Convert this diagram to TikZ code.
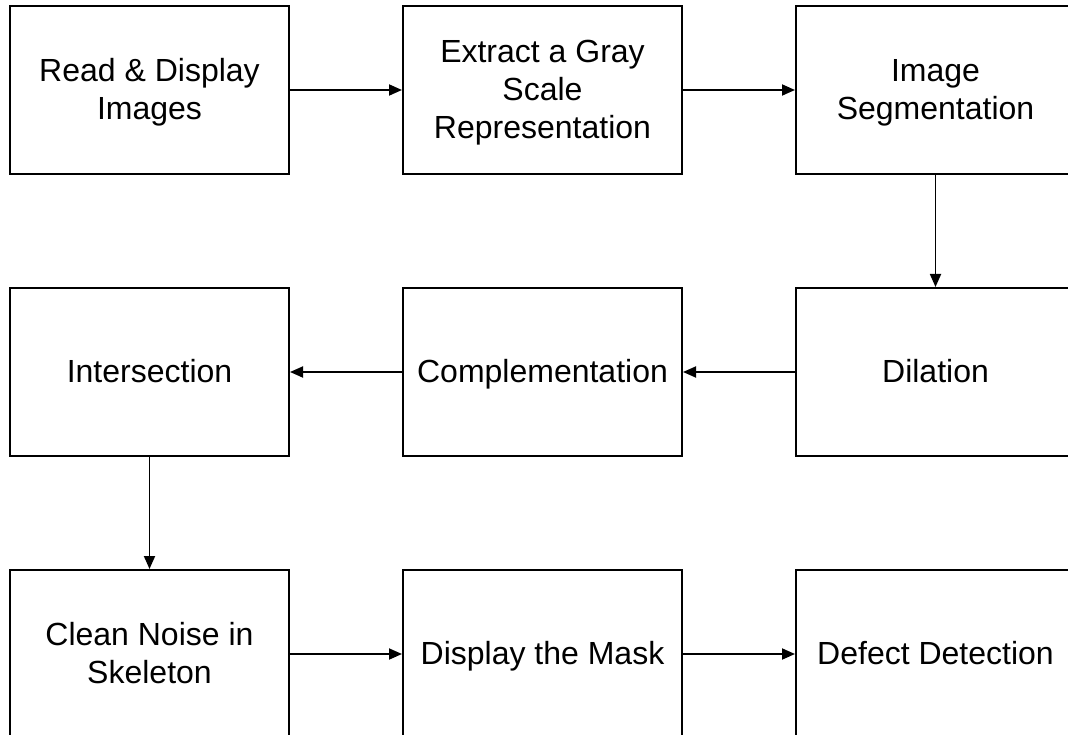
\documentclass[tikz,border=0pt]{standalone}
\usepackage{fontspec}
\setmainfont{Liberation Sans}
\usetikzlibrary{arrows.meta}
% struts that give every label the same top and bottom reach
\newcommand\topstrut{\rule{0pt}{29pt}}
\newcommand\botstrut{\rule[-8pt]{0pt}{8pt}}
\begin{document}
\begin{tikzpicture}[x=1pt,y=-1pt,
  stepbox/.style={draw=black,line width=2pt,rectangle,minimum width=279pt,minimum height=168pt,
    inner sep=0pt,align=center,font=\fontsize{32}{38}\selectfont},
  flow/.style={draw=black,line width=1.8pt,-{Triangle[length=13pt,width=11pt]}}]
\useasboundingbox (0,0) rectangle (1068,735);
\node[stepbox] (read) at (149.5,90) {\topstrut Read \& Display\\Images\botstrut};
\node[stepbox] (gray) at (542.5,90) {\topstrut Extract a Gray\\Scale\\Representation\botstrut};
\node[stepbox] (seg) at (935.5,90) {\topstrut Image\\Segmentation\botstrut};
\node[stepbox] (inter) at (149.5,372) {\topstrut Intersection\botstrut};
\node[stepbox] (comp) at (542.5,372) {\topstrut Complementation\botstrut};
\node[stepbox] (dil) at (935.5,372) {\topstrut Dilation\botstrut};
\node[stepbox] (clean) at (149.5,654) {\topstrut Clean Noise in\\Skeleton\botstrut};
\node[stepbox] (mask) at (542.5,654) {\topstrut Display the Mask\botstrut};
\node[stepbox] (defect) at (935.5,654) {\topstrut Defect Detection\botstrut};
\draw[flow] (read) -- (gray);
\draw[flow] (gray) -- (seg);
\draw[flow] (seg) -- (dil);
\draw[flow] (dil) -- (comp);
\draw[flow] (comp) -- (inter);
\draw[flow] (inter) -- (clean);
\draw[flow] (clean) -- (mask);
\draw[flow] (mask) -- (defect);
\end{tikzpicture}
\end{document}
